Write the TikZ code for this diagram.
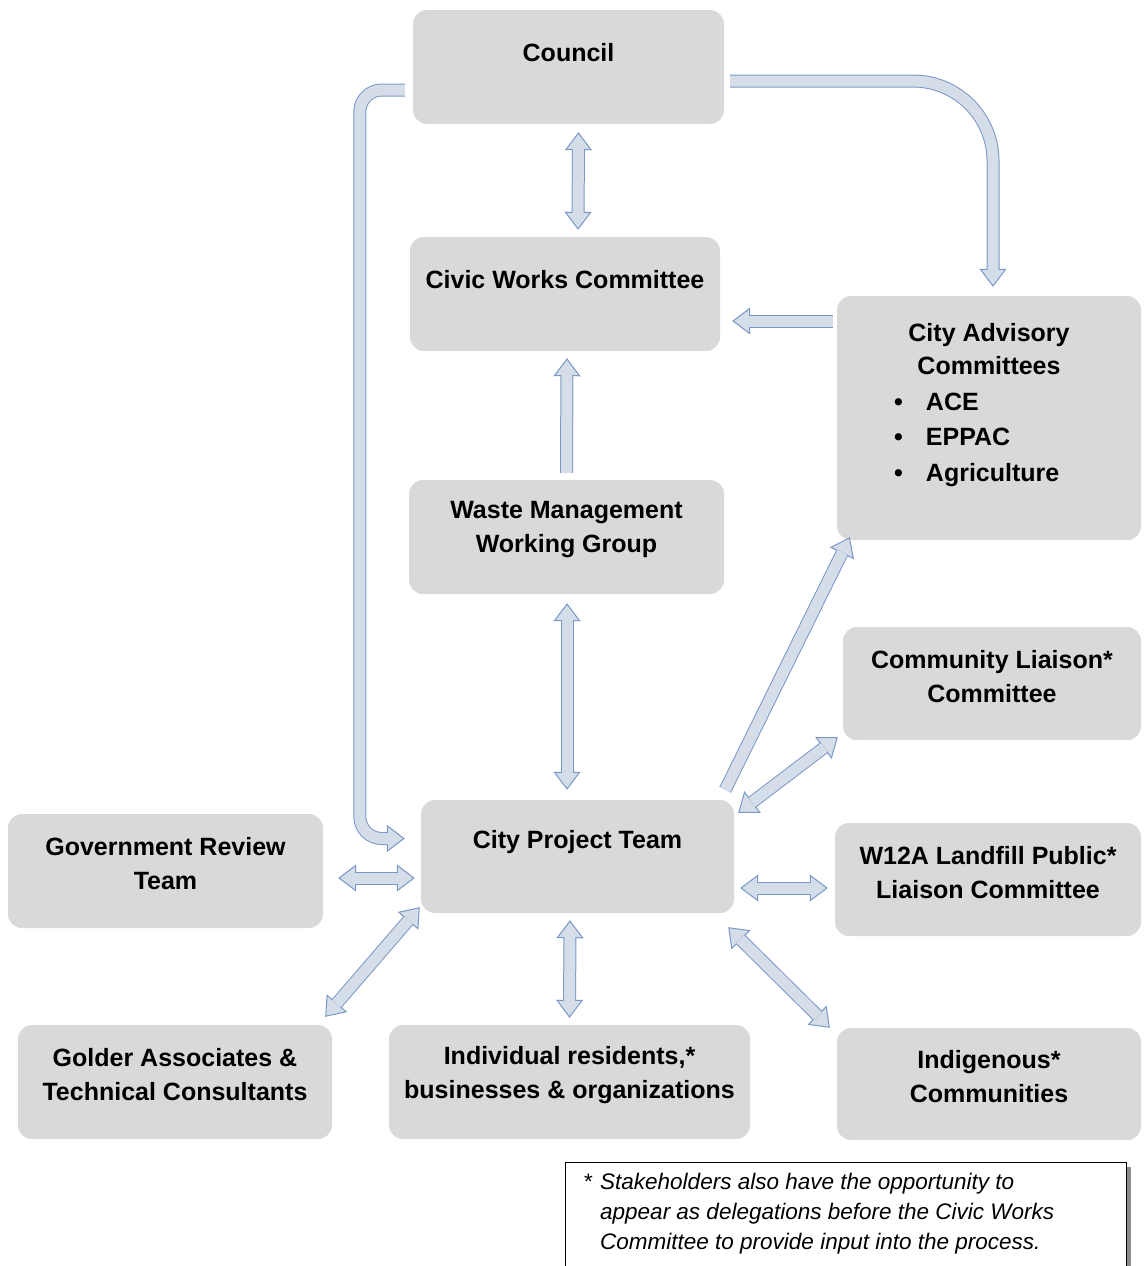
\documentclass[tikz,border=0pt]{standalone}
\usepackage{fontspec}
\setmainfont{Liberation Sans}
\usetikzlibrary{arrows.meta}
\definecolor{boxgray}{RGB}{217,217,217}
\definecolor{arrowfill}{RGB}{213,221,232}
\definecolor{arrowline}{RGB}{122,152,198}
\newcommand{\bulletitem}[1]{\makebox[190pt][l]{\makebox[32pt][l]{\textbullet}#1}}
\tikzset{
	blk/.tip={Triangle[open, fill=arrowfill, line width=1pt 0, length=18pt 0, width=27pt 0]},
	box/.style={fill=boxgray, rounded corners=14pt, inner sep=0pt},
	flow/.style={draw=arrowline, line width=0.5pt, -{blk},
		postaction={draw=arrowline, line width=1pt, double=arrowfill, double distance=11pt, arrows=-, shorten >=17pt}},
	flowboth/.style={draw=arrowline, line width=0.5pt, {blk}-{blk},
		postaction={draw=arrowline, line width=1pt, double=arrowfill, double distance=11pt, arrows=-, shorten >=17pt, shorten <=17pt}},
	every label/.style={font=\bfseries\fontsize{25}{34}\selectfont, align=center, inner sep=0pt},
	notetext/.style={font=\itshape\fontsize{22.5}{30}\selectfont, align=left, inner sep=0pt},
}
\begin{document}
\begin{tikzpicture}[x=1pt, y=-1pt]
	\useasboundingbox (0,0) rectangle (1143,1266);
	
	% boxes
	\node[box, minimum width=311pt, minimum height=114pt, label={[yshift=14pt]center:Council}] (council) at (568.5,67) {};
	\node[box, minimum width=310pt, minimum height=114pt, label={[yshift=14pt]center:Civic Works Committee}] (civic) at (565,294) {};
	\node[box, minimum width=304pt, minimum height=244pt, label={[yshift=13pt, font=\bfseries\fontsize{25}{35.5}\selectfont]center:{City Advisory\\[-2pt]Committees\\\bulletitem{ACE}\\\bulletitem{EPPAC}\\\bulletitem{Agriculture}}}] (advisory) at (989,418) {};
	\node[box, minimum width=315pt, minimum height=114pt, label={[yshift=7pt]center:{Waste Management\\Working Group}}] (waste) at (566.5,537) {};
	\node[box, minimum width=298pt, minimum height=113pt, label={[yshift=7pt]center:{Community Liaison*\\Committee}}] (community) at (992,683.5) {};
	\node[box, minimum width=313pt, minimum height=113pt, label={[yshift=14pt]center:City Project Team}] (project) at (577.5,856.5) {};
	\node[box, minimum width=315pt, minimum height=114pt, label={[yshift=7pt]center:{Government Review\\Team}}] (gov) at (165.5,871) {};
	\node[box, minimum width=306pt, minimum height=113pt, label={[yshift=7pt]center:{W12A Landfill Public*\\Liaison Committee}}] (w12a) at (988,879.5) {};
	\node[box, minimum width=314pt, minimum height=114pt, label={[yshift=7pt]center:{Golder Associates \&\\Technical Consultants}}] (golder) at (175,1082) {};
	\node[box, minimum width=361pt, minimum height=114pt, label={[yshift=7pt]center:{Individual residents,*\\businesses \& organizations}}] (individual) at (569.5,1082) {};
	\node[box, minimum width=304pt, minimum height=112pt, label={[yshift=7pt]center:{Indigenous*\\Communities}}] (indigenous) at (989,1084) {};
	
	% connectors
	\draw[flowboth] ([xshift=10pt,yshift=-8pt]council.south) -- ([xshift=13pt,yshift=7pt]civic.north);
	\draw[flow, rounded corners=80pt] ([xshift=6pt,yshift=-14pt]council.east) -| ([xshift=4pt,yshift=9pt]advisory.north);
	\draw[flow, rounded corners=22pt] ([xshift=-8pt,yshift=-23pt]council.west) -- ++(-45,0) |- ([xshift=-16pt,yshift=18pt]project.west);
	\draw[flow] ([xshift=-4pt,yshift=97pt]advisory.west) -- ([xshift=12pt,yshift=-27pt]civic.east);
	\draw[flow] ([yshift=7pt]waste.north) -- ([xshift=2pt,yshift=-7pt]civic.south);
	\draw[flowboth] ([xshift=0.5pt,yshift=-9pt]waste.south) -- ([xshift=-10.5pt,yshift=10pt]project.north);
	\draw[flow] ([xshift=-9pt,yshift=10pt]project.north east) -- ([xshift=13pt,yshift=3pt]advisory.south west);
	\draw[flowboth] ([xshift=4pt,yshift=-13pt]project.north east) -- ([xshift=-5pt,yshift=3pt]community.south west);
	\draw[flowboth] ([xshift=15pt,yshift=-7pt]gov.east) -- ([xshift=-6pt,yshift=-21.5pt]project.west);
	\draw[flowboth] ([xshift=6pt,yshift=-31.5pt]project.east) -- ([xshift=-7pt,yshift=-8.5pt]w12a.west);
	\draw[flowboth] ([xshift=-7pt,yshift=8pt]golder.north east) -- ([xshift=-1pt,yshift=6pt]project.south west);
	\draw[flowboth] ([xshift=-7.5pt,yshift=-7pt]project.south) -- ([yshift=7pt]individual.north);
	\draw[flowboth] ([xshift=-6pt,yshift=-14pt]project.south east) -- ([xshift=-7pt]indigenous.north west);
	
	% footnote
	\fill[black!45] (570,1167) rectangle (1131,1300);
	\draw[fill=white, line width=1pt] (565,1162) rectangle (1126,1300);
	\node[notetext, anchor=north west] (note) at (583,1173) {\makebox[17pt][l]{*}Stakeholders also have the opportunity to\\ \hspace*{17pt}appear as delegations before the Civic Works\\ \hspace*{17pt}Committee to provide input into the process.};
\end{tikzpicture}
\end{document}
